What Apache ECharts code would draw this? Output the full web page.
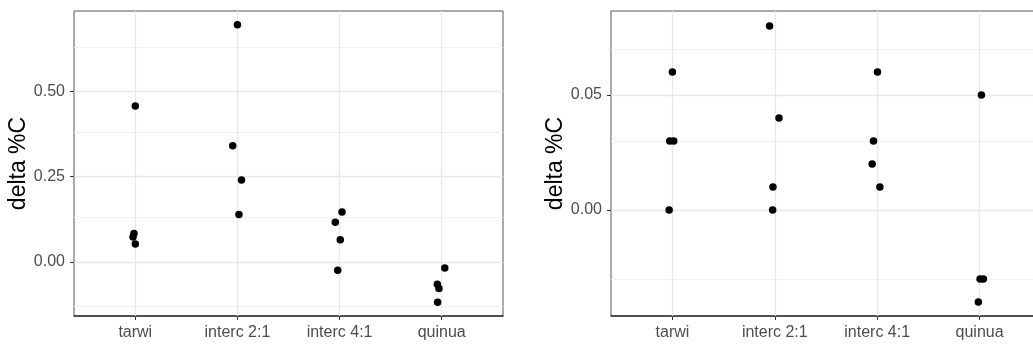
<!DOCTYPE html>
<html>
<head>
<meta charset="utf-8">
<script src="https://cdn.jsdelivr.net/npm/echarts@6/dist/echarts.min.js"></script>
<style>
  html, body { margin: 0; padding: 0; background: #fff; }
  #chart { width: 1033px; height: 345px; }
</style>
</head>
<body>
<div id="chart"></div>
<script>
const categories = ["tarwi", "interc 2:1", "interc 4:1", "quinua"];

// left panel: jittered position (1..4 = category) and delta %C
const leftX = [1.0, 0.987, 0.978, 1.0, 2.0, 1.954, 2.04, 2.015, 3.024, 2.958, 3.007, 2.982, 4.03, 3.957, 3.973, 3.96];
const leftY = [0.457, 0.083, 0.073, 0.052, 0.695, 0.34, 0.24, 0.139, 0.146, 0.116, 0.065, -0.025, -0.018, -0.066, -0.078, -0.119];

// right panel
const rightX = [1.0, 0.974, 1.013, 0.968, 1.949, 2.041, 1.982, 1.979, 3.003, 2.964, 2.951, 3.026, 4.018, 4.005, 4.037, 3.988];
const rightY = [0.06, 0.03, 0.03, 0.0, 0.08, 0.04, 0.01, 0.0, 0.06, 0.03, 0.02, 0.01, 0.05, -0.03, -0.03, -0.04];

const leftTicks = [0, 0.25, 0.5];
const leftMinor = [-0.125, 0.125, 0.375, 0.625];
const rightTicks = [0, 0.05];
const rightMinor = [-0.025, 0.025, 0.075];
const catTicks = [1, 2, 3, 4];

const chart = echarts.init(document.getElementById("chart"), null, { renderer: "canvas" });

const labelFont = {
  color: "#4d4d4d",
  fontSize: 16,
  fontFamily: "Liberation Sans",
};

function zip(xs, ys) {
  return xs.map((x, i) => [x, ys[i]]);
}

function xAxisFor(idx) {
  return {
    type: "value",
    gridIndex: idx,
    min: 0.4,
    max: 4.6,
    axisLine: { show: true, onZero: false, lineStyle: { color: "#333", width: 1.6 } },
    axisTick: { show: true, length: 4, customValues: catTicks, lineStyle: { color: "#333" } },
    axisLabel: Object.assign({
      customValues: catTicks,
      margin: 9,
      formatter: (v) => categories[Math.round(v) - 1],
    }, labelFont),
    splitLine: { show: false },
  };
}

function yAxisFor(idx, min, max, ticks, gap) {
  return {
    type: "value",
    gridIndex: idx,
    min: min,
    max: max,
    name: "delta %C",
    nameLocation: "middle",
    nameGap: gap,
    nameTextStyle: { color: "#000", fontSize: 23, fontFamily: "Liberation Sans" },
    axisLine: { show: false, onZero: false },
    axisTick: { show: true, length: 4, customValues: ticks, lineStyle: { color: "#333" } },
    axisLabel: Object.assign({
      customValues: ticks,
      margin: 9,
      formatter: (v) => v.toFixed(2),
    }, labelFont),
    splitLine: { show: false },
  };
}

// grid lines drawn through the axes as mark lines, kept under the points
function gridLines(idx, majors, minors) {
  const data = [];
  minors.forEach((v) => data.push({ yAxis: v, lineStyle: { color: "#f2f2f2", width: 1 } }));
  majors.forEach((v) => data.push({ yAxis: v, lineStyle: { color: "#e8e8e8", width: 1.3 } }));
  catTicks.forEach((v) => data.push({ xAxis: v, lineStyle: { color: "#e8e8e8", width: 1.3 } }));
  return {
    type: "scatter",
    xAxisIndex: idx,
    yAxisIndex: idx,
    data: [],
    silent: true,
    z: 1,
    markLine: {
      silent: true,
      z: 1,
      symbol: "none",
      label: { show: false },
      lineStyle: { type: "solid" },
      animation: false,
      data: data,
    },
  };
}

function points(idx, xs, ys) {
  return {
    type: "scatter",
    xAxisIndex: idx,
    yAxisIndex: idx,
    data: zip(xs, ys),
    symbol: "circle",
    symbolSize: 7.5,
    itemStyle: { color: "#000", opacity: 1 },
    z: 3,
  };
}

const option = {
  animation: false,
  grid: [
    { left: 74, top: 11, width: 429, height: 305, show: true, borderColor: "#555", borderWidth: 1, backgroundColor: "#fff", outerBoundsMode: "none" },
    { left: 611, top: 11, width: 430, height: 305, show: true, borderColor: "#555", borderWidth: 1, backgroundColor: "#fff", outerBoundsMode: "none" },
  ],
  xAxis: [xAxisFor(0), xAxisFor(1)],
  yAxis: [
    yAxisFor(0, -0.159, 0.7356, leftTicks, 42),
    yAxisFor(1, -0.0461, 0.0865, rightTicks, 41),
  ],
  series: [
    gridLines(0, leftTicks, leftMinor),
    gridLines(1, rightTicks, rightMinor),
    points(0, leftX, leftY),
    points(1, rightX, rightY),
  ],
};

chart.setOption(option);
</script>
</body>
</html>
